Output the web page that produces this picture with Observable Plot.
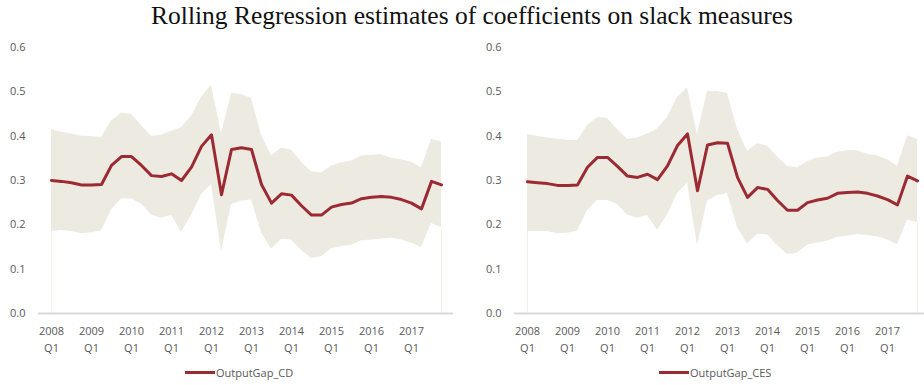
<!DOCTYPE html>
<html>
<head>
<meta charset="utf-8">
<script src="https://cdn.jsdelivr.net/npm/d3@7"></script>
<script src="https://cdn.jsdelivr.net/npm/@observablehq/plot@0.6"></script>
<style>
  html, body { margin: 0; padding: 0; background: #fff; }
  #page { position: relative; width: 924px; height: 385px; overflow: hidden; background: #fff; }
  #title { position: absolute; left: 0; top: 1px; width: 944px; text-align: center;
           font-family: "Liberation Serif", "DejaVu Serif", serif; font-size: 25.5px; color: #111; white-space: nowrap; }
  .panel { position: absolute; top: 36px; }
  .panel svg { max-width: none !important; }
  .legend { position: absolute; top: 365px; font-family: "Open Sans", sans-serif; font-size: 11px; color: #595959;
            display: flex; align-items: center; white-space: nowrap; }
  .legend .sw { display: inline-block; width: 30px; height: 3px; background: #9B2A33; margin-right: 1px; }
</style>
</head>
<body>
<div id="page">
  <div id="title">Rolling Regression estimates of coefficients on slack measures</div>
  <div id="left" class="panel" style="left:0px;width:462px"></div>
  <div id="right" class="panel" style="left:462px;width:468px"></div>
  <div class="legend" style="left:185px"><span class="sw"></span>OutputGap_CD</div>
  <div class="legend" style="left:659px"><span class="sw"></span>OutputGap_CES</div>
</div>
<script>
const quarters = [
  "2008Q1","2008Q2","2008Q3","2008Q4","2009Q1","2009Q2","2009Q3","2009Q4",
  "2010Q1","2010Q2","2010Q3","2010Q4","2011Q1","2011Q2","2011Q3","2011Q4",
  "2012Q1","2012Q2","2012Q3","2012Q4","2013Q1","2013Q2","2013Q3","2013Q4",
  "2014Q1","2014Q2","2014Q3","2014Q4","2015Q1","2015Q2","2015Q3","2015Q4",
  "2016Q1","2016Q2","2016Q3","2016Q4","2017Q1","2017Q2","2017Q3","2017Q4"
];
const tickQuarters = ["2008Q1","2009Q1","2010Q1","2011Q1","2012Q1","2013Q1","2014Q1","2015Q1","2016Q1","2017Q1"];
const yTicks = [0, 0.1, 0.2, 0.3, 0.4, 0.5, 0.6];

const cdEstimate = [0.300,0.298,0.295,0.290,0.290,0.291,0.334,0.354,0.354,0.334,
  0.311,0.309,0.315,0.300,0.330,0.377,0.403,0.268,0.370,0.374,
  0.370,0.291,0.249,0.270,0.267,0.243,0.222,0.222,0.240,0.246,
  0.249,0.259,0.262,0.264,0.262,0.257,0.249,0.236,0.298,0.290];
const cdUpper = [0.415,0.409,0.405,0.400,0.399,0.397,0.434,0.452,0.449,0.424,
  0.400,0.402,0.411,0.419,0.445,0.488,0.515,0.405,0.497,0.494,
  0.485,0.402,0.356,0.373,0.368,0.341,0.320,0.317,0.332,0.340,
  0.344,0.355,0.357,0.358,0.350,0.347,0.341,0.329,0.393,0.387];
const cdLower = [0.185,0.187,0.185,0.180,0.182,0.186,0.234,0.258,0.258,0.247,
  0.222,0.215,0.221,0.183,0.221,0.268,0.291,0.140,0.246,0.253,
  0.256,0.182,0.145,0.167,0.166,0.142,0.124,0.128,0.146,0.151,
  0.154,0.164,0.166,0.168,0.170,0.166,0.159,0.149,0.203,0.194];

const cesEstimate = [0.297,0.295,0.293,0.289,0.289,0.290,0.330,0.352,0.352,0.332,
  0.310,0.307,0.314,0.302,0.333,0.379,0.405,0.277,0.380,0.385,
  0.384,0.307,0.262,0.284,0.280,0.255,0.233,0.233,0.250,0.256,
  0.260,0.271,0.273,0.274,0.271,0.265,0.257,0.245,0.310,0.299];
const cesUpper = [0.404,0.399,0.396,0.393,0.391,0.390,0.424,0.442,0.440,0.415,
  0.393,0.396,0.405,0.416,0.442,0.487,0.509,0.404,0.501,0.501,
  0.496,0.415,0.366,0.383,0.378,0.353,0.332,0.329,0.343,0.351,
  0.353,0.364,0.367,0.367,0.359,0.355,0.347,0.332,0.401,0.393];
const cesLower = [0.185,0.185,0.185,0.180,0.181,0.186,0.232,0.255,0.255,0.246,
  0.222,0.215,0.221,0.188,0.222,0.270,0.294,0.153,0.254,0.266,
  0.270,0.194,0.157,0.179,0.177,0.153,0.133,0.136,0.154,0.159,
  0.163,0.172,0.174,0.178,0.176,0.173,0.166,0.155,0.211,0.205];

const LINE = "#9B2A33";
const BAND = "#EDEBE1";

function makePanel(est, up, lo, opts) {
  const rows = quarters.map((q, i) => ({q, est: est[i], up: up[i], lo: lo[i]}));
  const ends = [rows[0], rows[rows.length - 1]];
  return Plot.plot({
    width: opts.width,
    height: 315,
    marginLeft: opts.marginLeft,
    marginRight: opts.marginRight,
    marginTop: 11,
    marginBottom: 38,
    style: {fontFamily: "'Open Sans', sans-serif", fontSize: "11px", color: "#595959", background: "white", overflow: "visible", maxWidth: "none"},
    x: {type: "point", domain: quarters, padding: 0.5, label: null},
    y: {domain: [0, 0.6], label: null},
    marks: [
      Plot.areaY(rows, {x: "q", y1: "lo", y2: "up", fill: BAND, curve: "linear"}),
      Plot.ruleX(ends, {x: "q", y1: 0, y2: "lo", stroke: "#F3F1EA", strokeWidth: 1}),
      Plot.ruleY([0], {stroke: "#D9D9D9", strokeWidth: 2}),
      Plot.lineY(rows, {x: "q", y: "est", stroke: LINE, strokeWidth: 3, strokeLinejoin: "round"}),
      Plot.axisY(yTicks, {tickSize: 0, tickPadding: 13, tickFormat: d3.format(".1f"), fill: "#595959", fontSize: 11}),
      Plot.axisX(tickQuarters, {tickSize: 0, tickPadding: 9, lineHeight: 1.55,
        tickFormat: d => d.replace("Q", "\nQ"), fill: "#595959", fontSize: 11})
    ]
  });
}

document.getElementById("left").append(makePanel(cdEstimate, cdUpper, cdLower, {width: 462, marginLeft: 38, marginRight: 9}));
document.getElementById("right").append(makePanel(cesEstimate, cesUpper, cesLower, {width: 468, marginLeft: 52, marginRight: 0}));
</script>
</body>
</html>
